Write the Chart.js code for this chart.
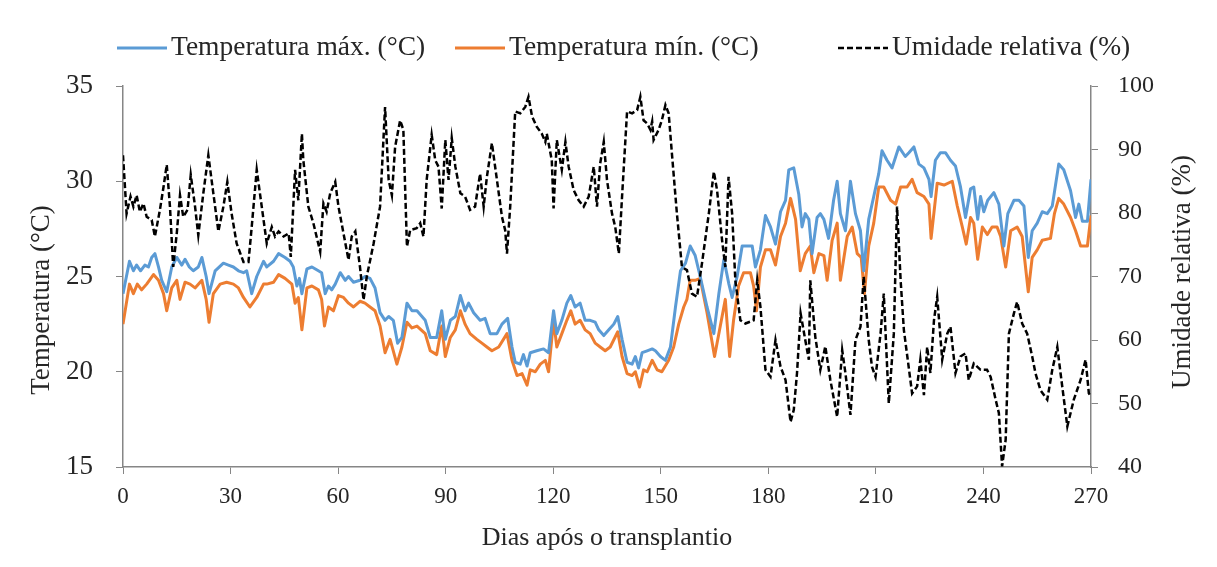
<!DOCTYPE html>
<html>
<head>
<meta charset="utf-8">
<script src="https://cdn.jsdelivr.net/npm/chart.js@4.4.1/dist/chart.umd.min.js"></script>
<style>
  body { margin: 0; background: #fff; }
  canvas { display: block; }
</style>
</head>
<body>
<canvas id="grafico" width="1217" height="567"></canvas>
<script>
// temperatura maxima
const diasMax = [0, 1.8, 2.9, 3.8, 4.9, 6.1, 7.1, 8.0, 8.9, 9.9, 10.8, 12.2, 13.6, 15.0, 16.4, 17.3, 18.5, 19.6, 21.0, 22.0, 23.2, 24.0, 25.7, 28.0, 29.4, 30.8, 32.2, 33.6, 34.5, 35.9, 37.3, 39.2,
  40.1, 42.0, 43.4, 45.2, 46.6, 47.5, 48.5, 49.2, 49.9, 51.3, 52.7, 54.5, 55.4, 56.4, 57.3, 58.2, 59.2, 60.6, 62.0, 62.9, 64.3, 66.1, 67.5, 68.9, 70.3, 71.7, 73.1, 74.1, 75.4, 76.6, 77.8, 79.2, 80.6, 82.0,
  84.3, 85.7, 87.5, 88.9, 89.9, 91.3, 92.7, 94.1, 95.4, 96.4, 97.8, 99.6, 101.0, 102.4, 104.3, 105.7, 107.3, 108.5, 109.4, 110.8, 111.7, 112.7, 113.6, 115.4, 117.3, 118.7, 120.1, 121.0, 122.4, 123.8, 124.9, 126.1, 127.5, 128.9,
  130.3, 131.7, 132.7, 134.1, 135.5, 136.9, 138.0, 139.2, 140.6, 142.0, 142.9, 143.8, 144.8, 146.2, 147.6, 148.5, 149.9, 151.3, 152.7, 154.1, 155.5, 156.9, 158.2, 159.6, 161.0, 162.9, 164.8, 166.2, 167.6, 169.0, 169.9, 171.3, 172.7, 174.1,
  175.5, 176.4, 177.8, 179.2, 180.6, 182.0, 183.4, 184.8, 185.7, 187.1, 188.5, 189.4, 190.3, 191.3, 192.2, 193.6, 194.5, 195.5, 196.8, 198.2, 199.2, 200.1, 201.5, 202.9, 204.3, 205.7, 206.6, 208.0, 209.4, 210.8, 211.7, 213.1, 214.5, 216.4, 218.2,
  219.2, 220.6, 222.0, 223.4, 224.8, 225.4, 226.6, 228.0, 229.4, 230.8, 232.2, 233.6, 235.0, 236.4, 237.3, 238.4, 239.2, 240.1, 241.2, 242.9, 244.3, 245.7, 246.8, 248.5, 249.9, 251.3, 252.5, 253.6, 255.0, 256.4, 257.8, 259.2, 261.0, 262.4, 264.3, 265.7, 266.6, 267.6, 269.0, 270];
const tempMax = [24.1, 25.8, 25.3, 25.6, 25.3, 25.6, 25.5, 26.0, 26.2, 25.5, 24.8, 24.2, 25.5, 26.0, 25.6, 25.9, 25.5, 25.3, 25.5, 26.0, 25.0, 24.1, 25.3, 25.7, 25.6, 25.5, 25.3, 25.2, 25.3, 24.1, 25.0, 25.8,
  25.5, 25.8, 26.2, 26.0, 25.8, 25.5, 24.5, 24.9, 24.1, 25.4, 25.5, 25.3, 25.2, 24.1, 24.5, 24.3, 24.6, 25.2, 24.8, 25.0, 24.7, 24.8, 25.0, 24.9, 24.4, 23.1, 22.7, 22.9, 22.7, 21.5, 21.8, 23.6, 23.2, 23.2,
  22.7, 21.8, 21.8, 23.2, 21.7, 22.7, 22.9, 24.0, 23.2, 23.6, 23.1, 22.7, 22.8, 22.0, 22.0, 22.5, 22.8, 21.3, 20.5, 20.4, 20.9, 20.3, 21.0, 21.1, 21.2, 21.0, 23.2, 22.0, 22.7, 23.6, 24.0, 23.4, 23.6, 22.7,
  22.7, 22.6, 22.2, 21.9, 22.2, 22.5, 22.9, 21.7, 20.5, 20.4, 20.8, 20.2, 21.0, 21.1, 21.2, 21.1, 20.8, 20.6, 21.3, 23.4, 25.3, 25.7, 26.6, 26.1, 25.0, 23.4, 22.0, 24.1, 25.9, 24.6, 23.9, 25.0, 26.6, 26.6,
  26.6, 25.5, 26.4, 28.2, 27.6, 26.7, 28.4, 29.0, 30.6, 30.7, 29.3, 27.6, 28.3, 28.0, 26.2, 28.1, 28.3, 28.0, 27.0, 29.0, 30.0, 28.3, 27.4, 30.0, 28.3, 27.4, 25.3, 28.0, 29.2, 30.4, 31.6, 31.1, 30.7, 31.8, 31.3,
  31.5, 31.8, 30.9, 30.7, 30.1, 29.2, 31.1, 31.5, 31.5, 31.1, 30.8, 29.7, 28.1, 29.6, 29.7, 28.0, 29.2, 28.4, 29.0, 29.4, 28.8, 26.6, 28.3, 29.0, 29.0, 28.7, 26.0, 27.4, 27.8, 28.4, 28.3, 28.7, 30.9, 30.6, 29.5, 28.1, 28.8, 27.9, 27.9, 30.1];

// temperatura minima
const diasMin = [0, 1.8, 2.9, 4.0, 5.2, 6.6, 8.5, 9.9, 11.3, 12.2, 13.6, 15.0, 15.9, 17.3, 18.7, 20.1, 22.0, 23.2, 24.0, 25.2, 27.1, 28.9, 30.8, 32.2, 33.6, 35.4, 37.3, 39.2,
  40.1, 42.0, 43.4, 45.2, 47.1, 48.0, 48.9, 49.9, 51.3, 52.7, 54.5, 55.4, 56.2, 57.3, 58.7, 60.1, 61.5, 62.9, 64.3, 66.1, 67.5, 68.9, 70.3, 71.7, 73.1, 74.5, 76.4, 77.8, 79.2, 80.6, 82.0,
  84.3, 85.7, 87.5, 88.9, 89.9, 91.3, 92.7, 94.1, 95.4, 96.8, 98.7, 100.1, 101.5, 102.9, 104.8, 107.1, 108.5, 109.9, 111.3, 112.7, 113.6, 115.0, 116.4, 117.8, 118.7, 120.1, 121.0, 122.4, 123.8, 124.9, 126.1, 127.5, 128.9,
  130.3, 131.7, 133.1, 134.5, 135.9, 138.0, 139.2, 140.6, 142.0, 142.9, 144.1, 145.2, 146.2, 147.6, 149.0, 150.3, 152.2, 153.6, 155.0, 156.4, 157.3, 158.2, 159.6, 161.0, 162.9, 165.0, 166.6, 168.0, 169.2, 170.3, 171.7, 173.1,
  175.0, 175.9, 176.7, 177.8, 179.2, 180.6, 182.0, 183.4, 184.8, 186.2, 187.6, 188.9, 190.3, 191.7, 192.7, 194.1, 195.5, 196.4, 197.8, 199.2, 200.1, 202.0, 203.4, 204.8, 205.9, 206.8, 208.0, 209.4, 210.8, 212.2, 214.1, 215.5, 216.9, 218.7,
  220.1, 221.5, 223.4, 224.8, 225.4, 227.1, 229.0, 231.3, 232.7, 234.1, 235.2, 236.4, 237.3, 238.4, 239.7, 241.1, 242.4, 243.8, 244.8, 246.2, 247.6, 249.4, 250.8, 252.5, 253.6, 255.0, 256.4, 258.7, 259.8, 261.0, 262.4, 264.3, 265.7, 267.1, 269.0, 270];
const tempMin = [22.5, 24.6, 24.1, 24.6, 24.3, 24.6, 25.1, 24.8, 24.1, 23.2, 24.4, 24.8, 23.8, 24.7, 24.6, 24.4, 24.8, 23.8, 22.6, 24.1, 24.6, 24.7, 24.6, 24.4, 23.9, 23.4, 23.9, 24.6,
  24.6, 24.7, 25.1, 24.9, 24.6, 23.6, 23.9, 22.2, 24.4, 24.5, 24.3, 23.8, 22.4, 23.4, 23.2, 24.0, 23.9, 23.6, 23.4, 23.7, 23.6, 23.4, 23.2, 22.4, 21.0, 21.7, 20.4, 21.3, 22.6, 22.3, 22.4,
  22.0, 21.1, 20.9, 22.4, 20.8, 21.8, 22.2, 23.2, 22.5, 22.0, 21.7, 21.5, 21.3, 21.1, 21.3, 22.0, 20.6, 19.8, 19.9, 19.3, 20.1, 20.0, 20.4, 20.6, 20.0, 22.7, 21.3, 22.0, 22.7, 23.2, 22.5, 22.7, 22.2,
  22.0, 21.5, 21.3, 21.1, 21.3, 22.1, 20.8, 19.9, 19.8, 20.0, 19.2, 20.1, 20.0, 20.6, 20.1, 20.0, 20.6, 21.3, 22.5, 23.4, 23.8, 24.8, 24.8, 24.9, 23.1, 20.8, 22.4, 23.8, 20.8, 22.7, 24.5, 25.2,
  25.2, 24.5, 23.2, 25.5, 26.4, 26.4, 25.6, 27.1, 27.8, 29.1, 28.0, 25.3, 26.2, 26.6, 25.2, 26.2, 26.1, 24.8, 26.9, 27.8, 24.8, 27.1, 27.6, 26.2, 26.0, 24.1, 26.6, 27.8, 29.7, 29.7, 29.0, 28.8, 29.7, 29.7,
  30.1, 29.4, 29.2, 28.8, 27.0, 29.9, 29.8, 30.0, 28.7, 27.6, 26.7, 28.1, 27.8, 25.9, 27.6, 27.2, 27.6, 27.6, 27.1, 25.5, 27.4, 27.6, 27.1, 24.2, 26.0, 26.4, 26.9, 27.0, 28.3, 29.1, 28.8, 28.1, 27.4, 26.6, 26.6, 28.2];

// umidade relativa
const diasUR = [0, 0.6, 1.0, 2.1, 2.9, 3.8, 4.7, 5.7, 6.6, 8.0, 8.9, 10.3, 11.3, 12.2, 13.1, 14.0, 15.0, 15.9, 16.8, 18.0, 18.9, 20.1, 21.0, 22.4, 23.8, 25.2, 26.6, 28.0, 29.1, 30.3, 31.7, 33.6, 35.0, 35.9, 37.3, 38.7, 40.1,
  41.5, 42.4, 43.4, 44.8, 46.2, 46.8, 48.0, 48.9, 49.9, 50.3, 51.7, 53.1, 55.0, 55.9, 56.8, 57.8, 59.2, 60.1, 61.5, 62.9, 63.8, 64.8, 66.1, 67.1, 68.0, 69.9, 71.7, 73.1, 74.1, 75.0, 75.9, 77.3, 78.2, 79.2, 80.1, 81.9, 82.9, 83.8,
  84.7, 86.1, 87.1, 88.0, 88.9, 89.9, 90.8, 91.7, 92.7, 94.1, 95.4, 96.8, 98.2, 99.6, 100.6, 101.5, 102.9, 104.3, 105.7, 106.6, 107.1, 108.0, 109.4, 110.8, 112.2, 113.1, 114.1, 115.4, 116.8, 117.8, 118.2, 119.6, 120.1, 121.0, 122.4, 123.4, 124.3, 125.7, 127.1, 128.5,
  129.9, 131.3, 132.2, 133.1, 134.1, 135.0, 136.4, 137.3, 138.3, 139.2, 140.6, 142.0, 143.4, 144.3, 145.2, 146.2, 147.1, 147.6, 148.0, 149.4, 150.3, 151.3, 152.2, 153.1, 154.5, 155.9, 157.3, 158.7, 160.1, 161.5, 163.4, 164.8, 165.7, 167.1, 168.0, 168.9, 169.9, 170.8, 172.2, 173.6,
  175.9, 176.9, 177.8, 179.2, 180.6, 182.0, 183.4, 184.8, 186.2, 187.1, 188.0, 189.0, 190.3, 191.3, 191.7, 193.1, 194.5, 195.9, 197.3, 199.2, 200.6, 201.5, 202.9, 204.3, 205.7, 206.6, 208.0, 208.9, 209.9, 211.3, 212.2, 213.6, 215.0, 215.9, 216.9, 217.8,
  220.1, 221.5, 222.4, 223.4, 224.3, 225.2, 226.2, 227.1, 228.5, 229.9, 230.8, 232.2, 233.6, 235.0, 235.9, 237.3, 239.2, 241.0, 242.0, 243.4, 244.3, 245.2, 246.2, 247.1, 248.5, 249.4, 250.8, 252.2, 253.6, 254.5, 255.9, 257.8, 259.2, 260.6, 261.5, 263.4, 265.2, 267.1, 268.5, 269.4, 270];
const umidade = [89.1, 83.6, 79.9, 82.6, 81.0, 82.8, 80.2, 81.5, 79.4, 78.9, 76.3, 80.5, 84.1, 87.6, 81.0, 71.5, 76.8, 82.8, 79.4, 80.5, 86.0, 81.0, 76.5, 83.1, 89.1, 83.1, 77.1, 81.0, 84.9, 79.9, 75.2, 72.3, 72.3, 77.8, 86.8, 81.0, 75.2,
  77.8, 76.3, 77.1, 76.3, 76.8, 73.1, 86.8, 82.0, 92.5, 88.3, 81.0, 78.4, 73.9, 81.5, 80.2, 83.1, 84.9, 81.0, 76.8, 72.6, 76.3, 77.1, 71.5, 66.3, 70.0, 75.2, 81.0, 96.7, 85.2, 82.8, 90.4, 94.6, 93.1, 74.7, 77.3, 77.6, 78.4, 76.3,
  85.2, 92.3, 88.3, 87.3, 80.7, 91.5, 85.2, 91.8, 87.3, 83.1, 82.6, 80.5, 81.0, 86.2, 81.0, 85.7, 91.0, 85.2, 79.4, 77.3, 73.6, 81.0, 96.0, 95.7, 96.7, 98.3, 95.2, 93.6, 92.5, 91.2, 92.5, 88.3, 80.7, 91.5, 86.8, 91.2, 87.3, 83.6, 82.0, 81.0,
  82.6, 87.3, 81.0, 87.8, 91.2, 85.2, 79.9, 77.8, 73.6, 82.6, 96.0, 95.7, 96.2, 98.3, 94.6, 94.1, 93.1, 94.4, 91.5, 93.1, 94.6, 97.0, 95.7, 89.4, 79.9, 71.5, 71.0, 67.3, 66.8, 72.1, 79.9, 86.5, 83.6, 75.7, 71.5, 85.7, 79.9, 69.4, 63.1, 62.6,
  63.1, 69.4, 65.2, 55.3, 54.2, 60.0, 55.8, 53.7, 47.1, 49.0, 54.8, 64.2, 60.0, 56.9, 69.4, 60.5, 55.3, 59.0, 53.7, 47.9, 58.4, 54.8, 48.2, 60.0, 62.1, 70.0, 60.0, 55.8, 54.2, 61.0, 67.3, 50.0, 61.0, 81.0, 69.4, 61.6,
  51.6, 52.7, 56.9, 51.3, 58.9, 54.8, 63.1, 66.8, 56.9, 61.0, 62.1, 54.8, 57.4, 57.9, 53.7, 56.3, 55.3, 55.3, 54.2, 50.6, 48.5, 40.1, 44.3, 61.0, 64.2, 66.0, 62.6, 61.0, 57.4, 54.8, 52.1, 50.6, 55.3, 58.9, 54.8, 46.4, 50.6, 53.7, 56.9, 51.6, 51.1];

const ctx = document.getElementById('grafico').getContext('2d');
const fonte = 'Liberation Serif';
const corTexto = '#262626';
const corEixo = '#868686';

function pontos(dias, valores) {
  return dias.map((d, i) => ({ x: d, y: valores[i] }));
}

// legenda e titulos dos eixos y (o da direita le de baixo para cima)
const extras = {
  id: 'extras',
  afterDraw(chart) {
    const c = chart.ctx;
    const area = chart.chartArea;
    const inicio = [117, 455, 838];
    c.save();
    c.fillStyle = corTexto;
    c.textBaseline = 'middle';
    c.textAlign = 'left';
    c.font = '27.5px "' + fonte + '"';
    chart.data.datasets.forEach((ds, i) => {
      c.strokeStyle = ds.borderColor;
      c.lineWidth = ds.borderWidth;
      c.setLineDash(ds.borderDash || []);
      c.beginPath();
      c.moveTo(inicio[i], 48);
      c.lineTo(inicio[i] + 50, 48);
      c.stroke();
      c.setLineDash([]);
      c.fillText(ds.label, inicio[i] + 54, 48);
    });
    c.textAlign = 'center';
    c.font = '27px "' + fonte + '"';
    c.save();
    c.translate(area.left - 81, area.top + 214);
    c.rotate(-Math.PI / 2);
    c.fillText('Temperatura (°C)', 0, 0);
    c.restore();
    c.save();
    c.translate(area.right + 92, area.top + 186);
    c.rotate(-Math.PI / 2);
    c.fillText('Umidade relativa (%)', 0, 0);
    c.restore();
    c.restore();
  }
};

const grafico = new Chart(ctx, {
  type: 'line',
  data: {
    datasets: [{
      label: 'Temperatura máx. (°C)',
      data: pontos(diasMax, tempMax),
      yAxisID: 'y',
      borderColor: '#5b9bd5',
      borderWidth: 3,
      borderJoinStyle: 'round',
      pointRadius: 0,
      tension: 0
    }, {
      label: 'Temperatura mín. (°C)',
      data: pontos(diasMin, tempMin),
      yAxisID: 'y',
      borderColor: '#ed7d31',
      borderWidth: 3,
      borderJoinStyle: 'round',
      pointRadius: 0,
      tension: 0
    }, {
      label: 'Umidade relativa (%)',
      data: pontos(diasUR, umidade),
      yAxisID: 'y2',
      borderColor: '#000000',
      borderWidth: 2.5,
      borderDash: [6, 3],
      pointRadius: 0,
      tension: 0,
      order: -1
    }]
  },
  options: {
    responsive: false,
    animation: false,
    devicePixelRatio: 1,
    layout: { padding: { top: 86, left: 0, right: 0, bottom: 0 } },
    plugins: {
      legend: { display: false },
      tooltip: { enabled: false }
    },
    scales: {
      x: {
        type: 'linear',
        min: 0,
        max: 270,
        ticks: { stepSize: 30, color: corTexto, font: { family: fonte, size: 23 }, padding: 9, maxRotation: 0 },
        grid: { drawOnChartArea: false, tickLength: 7, color: corEixo },
        border: { color: corEixo, width: 1.5 },
        title: {
          display: true,
          text: 'Dias após o transplantio',
          color: corTexto,
          font: { family: fonte, size: 26 },
          padding: { top: 0, bottom: 13 }
        },
        afterFit(s) { s.height = 100; }
      },
      y: {
        position: 'left',
        min: 15,
        max: 35,
        ticks: { stepSize: 5, color: corTexto, font: { family: fonte, size: 27 }, padding: 23 },
        grid: { drawOnChartArea: false, tickLength: 7, color: corEixo },
        border: { color: corEixo, width: 1.5 },
        afterFit(s) { s.width = 123; }
      },
      y2: {
        position: 'right',
        min: 40,
        max: 100,
        ticks: { stepSize: 10, color: corTexto, font: { family: fonte, size: 24 }, padding: 20 },
        grid: { drawOnChartArea: false, tickLength: 7, color: corEixo },
        border: { color: corEixo, width: 1.5 },
        afterFit(s) { s.width = 126; }
      }
    }
  },
  plugins: [extras]
});
</script>
</body>
</html>
